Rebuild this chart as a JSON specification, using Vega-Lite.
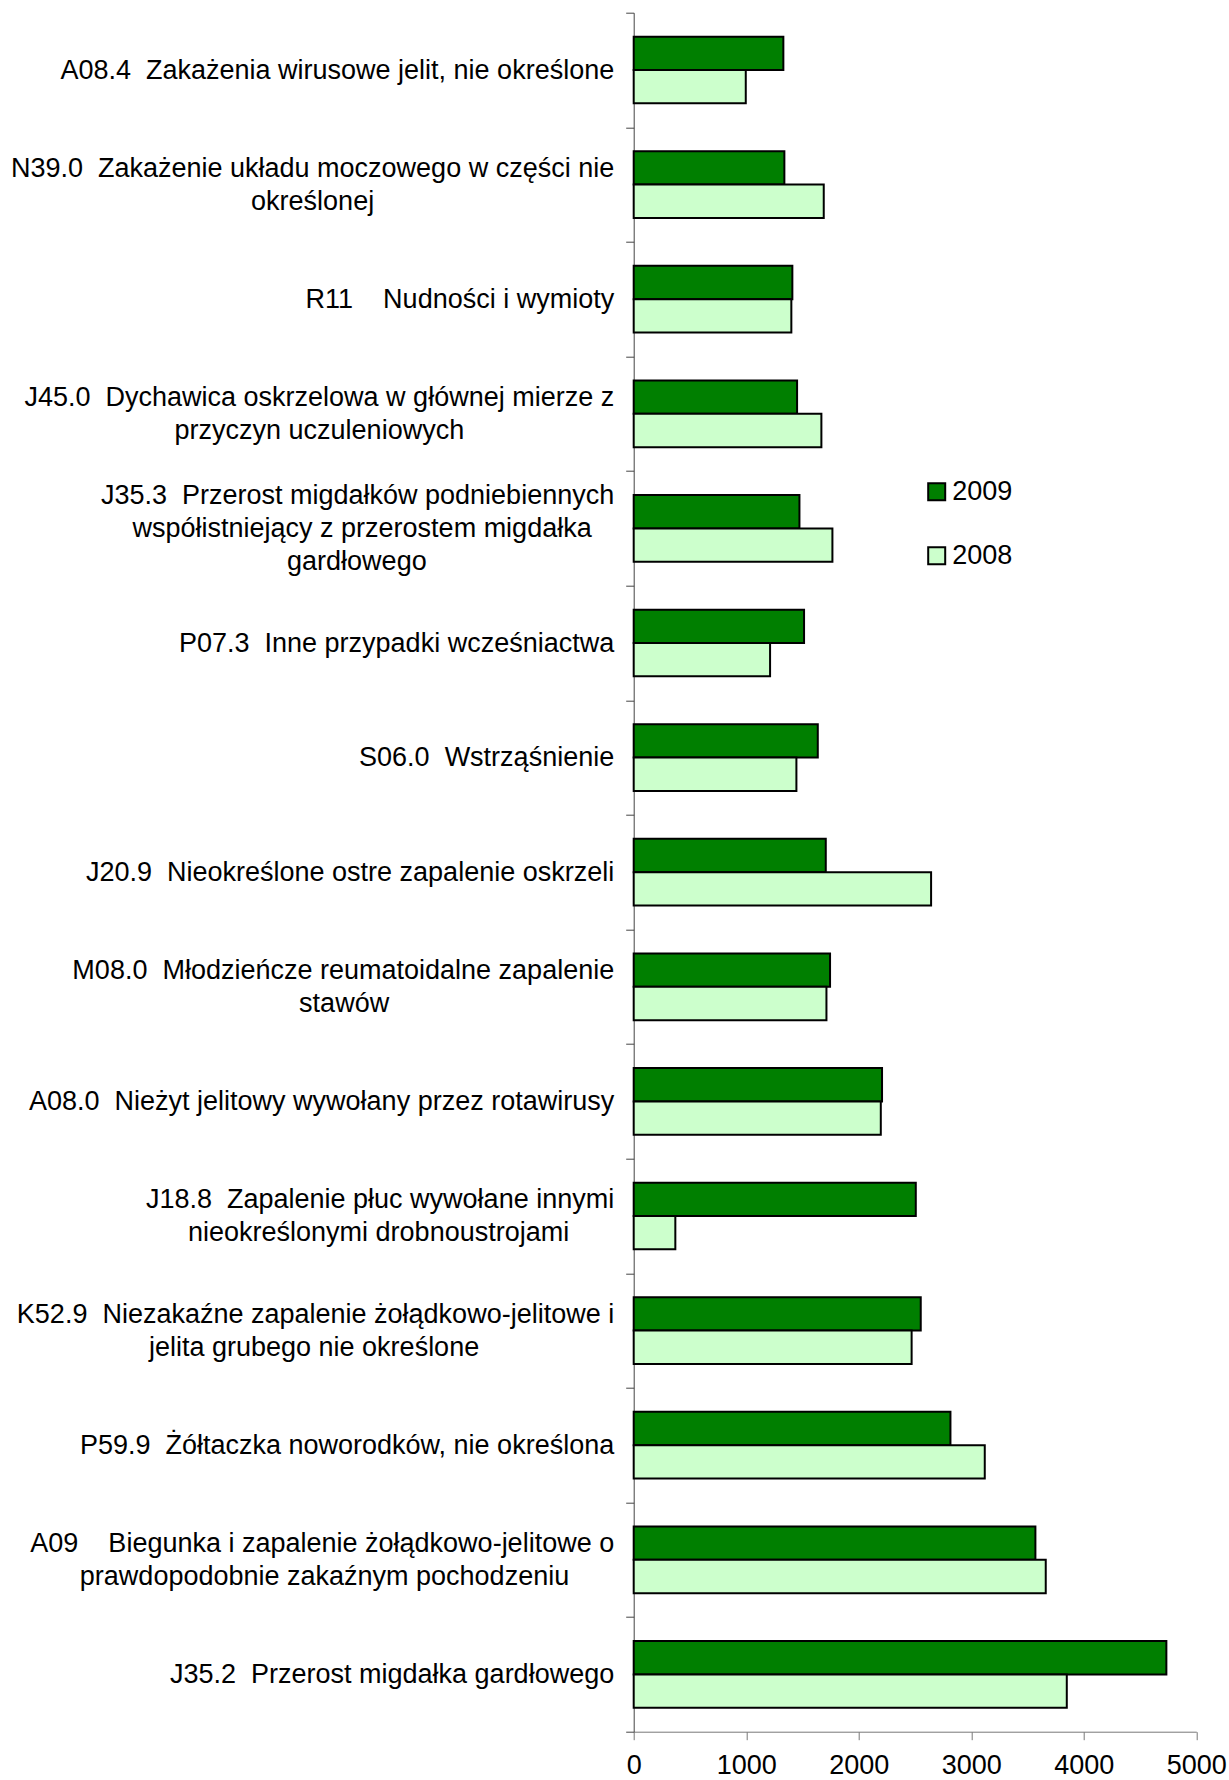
{
  "$schema": "https://vega.github.io/schema/vega-lite/v6.json",
  "autosize": {"type": "none"},
  "padding": {"left": 633.7, "top": 12.7, "right": 32.7, "bottom": 48.3},
  "width": 562.6,
  "height": 1719,
  "background": "white",
  "config": {
    "view": {"stroke": null},
    "font": "Liberation Sans",
    "axis": {"labelFont": "Liberation Sans", "labelColor": "#000000", "title": null}
  },
  "data": {
    "values": [
      {"category": "A08.4\u00a0 Zakażenia wirusowe jelit, nie określone", "year": "2009", "value": 1330},
      {"category": "A08.4\u00a0 Zakażenia wirusowe jelit, nie określone", "year": "2008", "value": 996},
      {"category": "N39.0\u00a0 Zakażenie układu moczowego w części nie|określonej\u00a0\u00a0\u00a0\u00a0\u00a0\u00a0\u00a0\u00a0\u00a0\u00a0\u00a0\u00a0\u00a0\u00a0\u00a0\u00a0\u00a0\u00a0\u00a0\u00a0\u00a0\u00a0\u00a0\u00a0\u00a0\u00a0\u00a0\u00a0\u00a0\u00a0\u00a0\u00a0\u2060", "year": "2009", "value": 1339},
      {"category": "N39.0\u00a0 Zakażenie układu moczowego w części nie|określonej\u00a0\u00a0\u00a0\u00a0\u00a0\u00a0\u00a0\u00a0\u00a0\u00a0\u00a0\u00a0\u00a0\u00a0\u00a0\u00a0\u00a0\u00a0\u00a0\u00a0\u00a0\u00a0\u00a0\u00a0\u00a0\u00a0\u00a0\u00a0\u00a0\u00a0\u00a0\u00a0\u2060", "year": "2008", "value": 1689},
      {"category": "R11\u00a0\u00a0\u00a0 Nudności i wymioty", "year": "2009", "value": 1410},
      {"category": "R11\u00a0\u00a0\u00a0 Nudności i wymioty", "year": "2008", "value": 1401},
      {"category": "J45.0\u00a0 Dychawica oskrzelowa w głównej mierze z|przyczyn uczuleniowych\u00a0\u00a0\u00a0\u00a0\u00a0\u00a0\u00a0\u00a0\u00a0\u00a0\u00a0\u00a0\u00a0\u00a0\u00a0\u00a0\u00a0\u00a0\u00a0\u00a0\u2060", "year": "2009", "value": 1452},
      {"category": "J45.0\u00a0 Dychawica oskrzelowa w głównej mierze z|przyczyn uczuleniowych\u00a0\u00a0\u00a0\u00a0\u00a0\u00a0\u00a0\u00a0\u00a0\u00a0\u00a0\u00a0\u00a0\u00a0\u00a0\u00a0\u00a0\u00a0\u00a0\u00a0\u2060", "year": "2008", "value": 1668},
      {"category": "J35.3\u00a0 Przerost migdałków podniebiennych|współistniejący z przerostem migdałka\u00a0\u00a0\u00a0\u2060|gardłowego\u00a0\u00a0\u00a0\u00a0\u00a0\u00a0\u00a0\u00a0\u00a0\u00a0\u00a0\u00a0\u00a0\u00a0\u00a0\u00a0\u00a0\u00a0\u00a0\u00a0\u00a0\u00a0\u00a0\u00a0\u00a0\u2060", "year": "2009", "value": 1473},
      {"category": "J35.3\u00a0 Przerost migdałków podniebiennych|współistniejący z przerostem migdałka\u00a0\u00a0\u00a0\u2060|gardłowego\u00a0\u00a0\u00a0\u00a0\u00a0\u00a0\u00a0\u00a0\u00a0\u00a0\u00a0\u00a0\u00a0\u00a0\u00a0\u00a0\u00a0\u00a0\u00a0\u00a0\u00a0\u00a0\u00a0\u00a0\u00a0\u2060", "year": "2008", "value": 1766},
      {"category": "P07.3\u00a0 Inne przypadki wcześniactwa", "year": "2009", "value": 1514},
      {"category": "P07.3\u00a0 Inne przypadki wcześniactwa", "year": "2008", "value": 1212},
      {"category": "S06.0\u00a0 Wstrząśnienie", "year": "2009", "value": 1636},
      {"category": "S06.0\u00a0 Wstrząśnienie", "year": "2008", "value": 1446},
      {"category": "J20.9\u00a0 Nieokreślone ostre zapalenie oskrzeli", "year": "2009", "value": 1707},
      {"category": "J20.9\u00a0 Nieokreślone ostre zapalenie oskrzeli", "year": "2008", "value": 2643},
      {"category": "M08.0\u00a0 Młodzieńcze reumatoidalne zapalenie|stawów\u00a0\u00a0\u00a0\u00a0\u00a0\u00a0\u00a0\u00a0\u00a0\u00a0\u00a0\u00a0\u00a0\u00a0\u00a0\u00a0\u00a0\u00a0\u00a0\u00a0\u00a0\u00a0\u00a0\u00a0\u00a0\u00a0\u00a0\u00a0\u00a0\u00a0\u2060", "year": "2009", "value": 1745},
      {"category": "M08.0\u00a0 Młodzieńcze reumatoidalne zapalenie|stawów\u00a0\u00a0\u00a0\u00a0\u00a0\u00a0\u00a0\u00a0\u00a0\u00a0\u00a0\u00a0\u00a0\u00a0\u00a0\u00a0\u00a0\u00a0\u00a0\u00a0\u00a0\u00a0\u00a0\u00a0\u00a0\u00a0\u00a0\u00a0\u00a0\u00a0\u2060", "year": "2008", "value": 1713},
      {"category": "A08.0\u00a0 Nieżyt jelitowy wywołany przez rotawirusy", "year": "2009", "value": 2207},
      {"category": "A08.0\u00a0 Nieżyt jelitowy wywołany przez rotawirusy", "year": "2008", "value": 2196},
      {"category": "J18.8\u00a0 Zapalenie płuc wywołane innymi|nieokreślonymi drobnoustrojami\u00a0\u00a0\u00a0\u00a0\u00a0\u00a0\u2060", "year": "2009", "value": 2507},
      {"category": "J18.8\u00a0 Zapalenie płuc wywołane innymi|nieokreślonymi drobnoustrojami\u00a0\u00a0\u00a0\u00a0\u00a0\u00a0\u2060", "year": "2008", "value": 370},
      {"category": "K52.9\u00a0 Niezakaźne zapalenie żołądkowo-jelitowe i|jelita grubego nie określone\u00a0\u00a0\u00a0\u00a0\u00a0\u00a0\u00a0\u00a0\u00a0\u00a0\u00a0\u00a0\u00a0\u00a0\u00a0\u00a0\u00a0\u00a0\u2060", "year": "2009", "value": 2551},
      {"category": "K52.9\u00a0 Niezakaźne zapalenie żołądkowo-jelitowe i|jelita grubego nie określone\u00a0\u00a0\u00a0\u00a0\u00a0\u00a0\u00a0\u00a0\u00a0\u00a0\u00a0\u00a0\u00a0\u00a0\u00a0\u00a0\u00a0\u00a0\u2060", "year": "2008", "value": 2470},
      {"category": "P59.9\u00a0 Żółtaczka noworodków, nie określona", "year": "2009", "value": 2815},
      {"category": "P59.9\u00a0 Żółtaczka noworodków, nie określona", "year": "2008", "value": 3120},
      {"category": "A09\u00a0\u00a0\u00a0 Biegunka i zapalenie żołądkowo-jelitowe o|prawdopodobnie zakaźnym pochodzeniu\u00a0\u00a0\u00a0\u00a0\u00a0\u00a0\u2060", "year": "2009", "value": 3570},
      {"category": "A09\u00a0\u00a0\u00a0 Biegunka i zapalenie żołądkowo-jelitowe o|prawdopodobnie zakaźnym pochodzeniu\u00a0\u00a0\u00a0\u00a0\u00a0\u00a0\u2060", "year": "2008", "value": 3662},
      {"category": "J35.2\u00a0 Przerost migdałka gardłowego", "year": "2009", "value": 4734},
      {"category": "J35.2\u00a0 Przerost migdałka gardłowego", "year": "2008", "value": 3849}
    ]
  },
  "mark": {"type": "bar", "stroke": "#000000", "strokeWidth": 2},
  "encoding": {
    "y": {
      "field": "category",
      "type": "nominal",
      "sort": null,
      "scale": {"paddingInner": 0, "paddingOuter": 0},
      "axis": {
        "labelExpr": "split(datum.label, '|')",
        "labelFontSize": 27,
        "labelLineHeight": 33,
        "labelAlign": "right",
        "labelBaseline": "middle",
        "labelPadding": 12,
        "labelLimit": 700,
        "labelOffset": {
          "condition": [
            {"test": "length(split(datum.value, '|')) == 3", "value": -33},
            {"test": "length(split(datum.value, '|')) == 2", "value": -16.5}
          ],
          "value": 0
        },
        "tickBand": "extent",
        "tickSize": 8,
        "tickColor": "#444444",
        "domainColor": "#444444",
        "tickWidth": 1,
        "domainWidth": 1
      }
    },
    "yOffset": {
      "field": "year",
      "type": "nominal",
      "scale": {"domain": ["2009", "2008"], "paddingInner": 0, "paddingOuter": 0.718}
    },
    "x": {
      "field": "value",
      "type": "quantitative",
      "scale": {"domain": [0, 5000], "nice": false},
      "axis": {
        "values": [0, 1000, 2000, 3000, 4000, 5000],
        "format": "d",
        "grid": false,
        "labelFontSize": 27,
        "labelPadding": 13,
        "tickSize": 8,
        "tickColor": "#777777",
        "domainColor": "#777777",
        "labelFlush": false
      }
    },
    "fill": {
      "field": "year",
      "type": "nominal",
      "scale": {"domain": ["2009", "2008"], "range": ["#007f00", "#ccffcc"]},
      "legend": {
        "orient": "none",
        "legendX": 289.5,
        "legendY": 465.5,
        "title": null,
        "padding": 0,
        "symbolType": "square",
        "symbolSize": 289,
        "symbolStrokeColor": "#000000",
        "symbolStrokeWidth": 2,
        "labelFont": "Liberation Sans",
        "labelFontSize": 27,
        "labelColor": "#000000",
        "labelOffset": 2,
        "rowPadding": 36
      }
    }
  }
}
